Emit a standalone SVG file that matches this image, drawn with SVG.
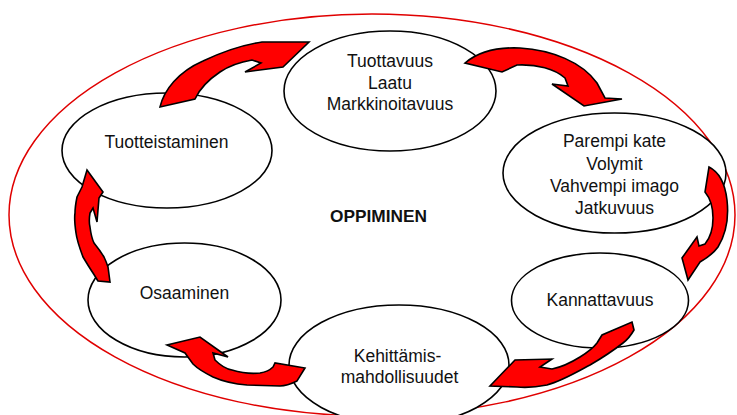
<svg xmlns="http://www.w3.org/2000/svg" width="737" height="415" viewBox="0 0 737 415">
<style>
.node ellipse{fill:#fff;stroke:#000;stroke-width:1.6}
.lbl{font-family:"Liberation Sans",Arial,sans-serif;font-size:17.5px;fill:#111;text-anchor:middle}
.arr{fill:#ff0000;stroke:#000;stroke-width:1.6;stroke-linejoin:miter}
</style>
<rect width="737" height="415" fill="#fff"/>
<ellipse id="outer" cx="372" cy="215" rx="363" ry="201" fill="none" stroke="#e00000" stroke-width="1.5"/>
<g id="n-tuottavuus" class="node">
<ellipse cx="390" cy="91" rx="106" ry="60"/>
<text class="lbl" x="390" y="67">Tuottavuus</text>
<text class="lbl" x="390" y="88.5">Laatu</text>
<text class="lbl" x="390" y="110">Markkinoitavuus</text>
</g>
<g id="n-parempi" class="node">
<ellipse cx="614.5" cy="173" rx="111.5" ry="60"/>
<text class="lbl" x="614.5" y="146.5">Parempi kate</text>
<text class="lbl" x="614.5" y="169.5">Volymit</text>
<text class="lbl" x="614.5" y="191.5">Vahvempi imago</text>
<text class="lbl" x="614.5" y="214">Jatkuvuus</text>
</g>
<g id="n-kannattavuus" class="node">
<ellipse cx="600" cy="300.5" rx="88.5" ry="47.5"/>
<text class="lbl" x="600" y="306">Kannattavuus</text>
</g>
<g id="n-kehittamis" class="node">
<ellipse cx="399" cy="365" rx="110" ry="60"/>
<text class="lbl" x="397.5" y="361.5">Kehittämis-</text>
<text class="lbl" x="399.5" y="382.5">mahdollisuudet</text>
</g>
<g id="n-osaaminen" class="node">
<ellipse cx="184.5" cy="300" rx="96.5" ry="57"/>
<text class="lbl" x="184.5" y="299">Osaaminen</text>
</g>
<g id="n-tuotteistaminen" class="node">
<ellipse cx="167" cy="150.5" rx="105" ry="57.5"/>
<text class="lbl" x="166.5" y="148">Tuotteistaminen</text>
</g>
<g id="center-label">
<text x="378.5" y="221.5" font-family="Liberation Sans, Arial, sans-serif" font-weight="bold" font-size="16.5" fill="#111" text-anchor="middle" textLength="97" lengthAdjust="spacingAndGlyphs">OPPIMINEN</text>
</g>
<g id="connectors">
<path class="arr" d="M160,107 C164,90 178,72 203,61 C222,52 242,45 262,42 L287,42 L309,42 L283,67 L245,72 L261,63 L252,60 C240,62 229,66 220,72 C208,80 200,88 195,99 Z"/>
<path class="arr" d="M465,63 C478,52 498,47 520,48 C552,50 582,62 597,83 L605,98 L622,99 L584,106 L552,84 L568,86 L565,78 C555,69 537,64 517,65 L502,72 Z"/>
<path class="arr" d="M709,167 C719,172 725,183 727,200 C729,218 726,234 718,247 C713,254 707,258 700,262 L688,280 L682,258 L697,237 L699,246 L705,244 C710,238 713,229 713,218 C713,207 710,198 705,192 Z"/>
<path class="arr" d="M632,322 L634,330 C630,337 627,340 623,343 C614,350 602,358 590,365 C577,372 562,381 547,385 C537,387 527,388 517,387 L490,386 L515,360 L552,359 L540,367 L552,369 C562,367 572,362 580,357 C588,352 594,347 597,343 L602,335 Z"/>
<path class="arr" d="M305,368 L297,381 C291,384 286,386 280,386 L247,385 C234,384 222,381 213,377 C203,372 197,368 193,364 L185,353 L167,345 L200,337 L228,357 L213,353 L215,360 C220,365 226,369 232,370 C242,373 251,374 260,373 C266,372 270,370 273,367 L275,363 Z"/>
<path class="arr" d="M87,170 L103,192 L99,198 L97,222 L93,208 L90,213 C89,219 89,223 90,227 C91,235 92,239 94,243 C98,248 101,252 104,257 C106,261 107,264 108,267 L110,282 L98,281 C96,278 95,276 93,273 C89,267 86,262 83,257 C80,249 77,241 76,233 C75,226 74,219 75,213 C75,207 76,202 77,197 L82,187 Z"/>
</g>
</svg>
